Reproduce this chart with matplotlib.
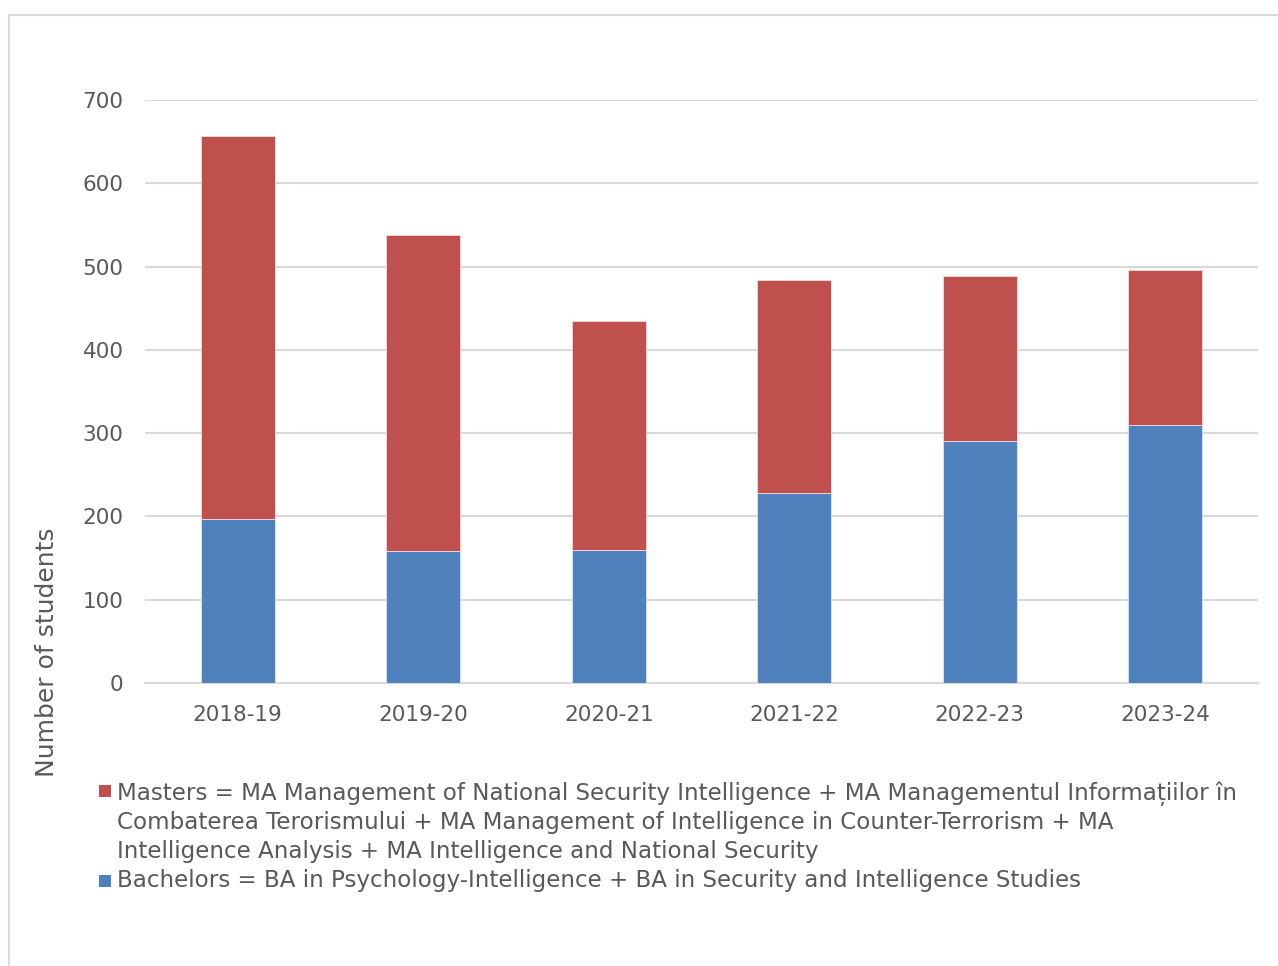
import matplotlib
matplotlib.use("Agg")
import matplotlib.pyplot as plt
from matplotlib.patches import Rectangle

years = ["2018-19", "2019-20", "2020-21", "2021-22", "2022-23", "2023-24"]
bachelors = [197, 158, 160, 228, 290, 310]
masters = [460, 380, 275, 256, 199, 186]
yticks = [0, 100, 200, 300, 400, 500, 600, 700]

masters_lines = ["Masters = MA Management of National Security Intelligence + MA Managementul Informațiilor în",
                 "Combaterea Terorismului + MA Management of Intelligence in Counter-Terrorism + MA",
                 "Intelligence Analysis + MA Intelligence and National Security"]
bachelors_lines = ["Bachelors = BA in Psychology-Intelligence + BA in Security and Intelligence Studies"]

RED = "#C0504D"
BLUE = "#4F81BD"
TXT = "#595959"
GRID = "#D9D9D9"

plt.rcParams['font.family'] = ['DejaVu Sans']
W, H = 1278, 966
fig = plt.figure(figsize=(W/100, H/100), dpi=100)

# chart border (right and bottom edges fall outside the image)
fig.patches.append(Rectangle((9/W, -0.05), 1.0, (H-15)/H + 0.05, transform=fig.transFigure,
                             fill=False, edgecolor=GRID, linewidth=1.5))

ax = fig.add_axes([145/W, (H-683)/H, (1258-145)/W, (683-100)/H])
x = list(range(len(years)))
ax.bar(x, bachelors, width=0.4, color=BLUE, edgecolor="#DCE6F2", linewidth=0.6, zorder=3)
ax.bar(x, masters, width=0.4, bottom=bachelors, color=RED, edgecolor="#F2DCDB", linewidth=0.6, zorder=3)

ax.set_xlim(-0.5, 5.5)
ax.set_ylim(0, 700)
ax.set_yticks(yticks)
ax.set_xticks(x)
ax.set_xticklabels(years)
ax.yaxis.grid(True, color=GRID, linewidth=1.5, zorder=0)
ax.set_axisbelow(True)
for s in ["top", "right", "left"]:
    ax.spines[s].set_visible(False)
ax.spines["bottom"].set_color(GRID)
ax.spines["bottom"].set_linewidth(1.5)
ax.tick_params(axis="both", length=0, labelsize=15.5, colors=TXT)
ax.tick_params(axis="y", pad=15.5)
ax.tick_params(axis="x", pad=15.5)

fig.text(47/W, 1 - 652/H, "Number of students", rotation=90, ha="center", va="center",
         fontsize=18, color=TXT)

# legend drawn manually (handle aligned to first line of each entry)
LEG_FS = 16.6
baselines = [800, 829, 858]
for line, yb in zip(masters_lines, baselines):
    fig.text(117/W, 1 - yb/H, line, ha="left", va="baseline", fontsize=LEG_FS, color=TXT)
fig.text(117/W, 1 - 887/H, bachelors_lines[0], ha="left", va="baseline", fontsize=LEG_FS, color=TXT)
fig.patches.append(Rectangle((99/W, 1 - 797/H), 12/W, 12/H, transform=fig.transFigure,
                             facecolor=RED, edgecolor="none"))
fig.patches.append(Rectangle((99/W, 1 - 887/H), 12/W, 12/H, transform=fig.transFigure,
                             facecolor=BLUE, edgecolor="none"))

fig.savefig("out.png", dpi=100)
